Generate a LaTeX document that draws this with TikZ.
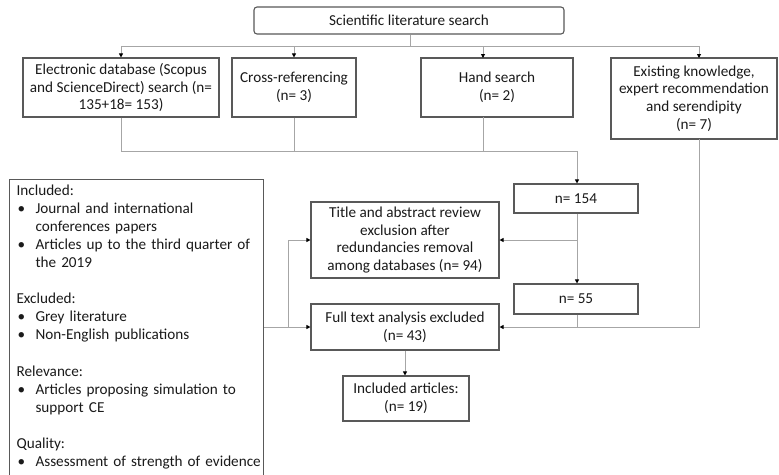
\documentclass[tikz,border=0pt]{standalone}
\usepackage{fontspec}
\setmainfont{Carlito}
\usetikzlibrary{arrows.meta,calc}
\definecolor{bordc}{HTML}{595959}
\definecolor{connc}{HTML}{A6A6A6}
\definecolor{txtc}{HTML}{1A1A1A}
\newcommand{\bul}{\makebox[19pt][l]{\hspace{1pt}•}}
\newcommand{\ind}{\hspace*{19pt}}
\begin{document}
\begin{tikzpicture}[x=1pt,y=-1pt,
  every node/.style={font=\fontsize{15.2}{17.7}\selectfont, text=txtc},
  boxx/.style={draw=bordc, line width=1.1pt, rectangle, align=center, inner sep=0pt},
  conn/.style={draw=connc, line width=0.9pt},
  tip/.style={-{Triangle[length=4pt,width=4pt,color=black]}}
]
\clip (0,0) rectangle (779,474);
\fill[white] (0,0) rectangle (779,474);

\node[boxx, rounded corners=3pt, minimum width=310pt, minimum height=27pt] (top) at (409,20.5) {Scientific literature search};

\node[boxx, minimum width=196pt, minimum height=59pt] (db) at (121,87.5) {Electronic database (Scopus\\ and ScienceDirect) search (n=\\ 135+18= 153)};
\node[boxx, minimum width=124pt, minimum height=59pt] (cross) at (294,87.5) {Cross-referencing\\ (n= 3)};
\node[boxx, minimum width=152pt, minimum height=59pt] (hand) at (497,87.5) {Hand search\\ (n= 2)};
\node[boxx, minimum width=166pt, minimum height=81pt] (exist) at (694,98.5) {Existing knowledge,\\ expert recommendation\\ and serendipity\\ (n= 7)};

\node[boxx, minimum width=124pt, minimum height=29pt] (n154) at (576,198.5) {n= 154};
\node[boxx, minimum width=188pt, minimum height=76pt] (title) at (405,240) {Title and abstract review\\ exclusion after\\ redundancies removal\\ among databases (n= 94)};
\node[boxx, minimum width=124pt, minimum height=30pt] (n55) at (576,299) {n= 55};
\node[boxx, minimum width=188pt, minimum height=46pt] (full) at (405,327) {Full text analysis excluded\\ (n= 43)};
\node[boxx, minimum width=126pt, minimum height=45pt] (incl) at (406,398.5) {Included articles:\\ (n= 19)};

\node[draw=bordc, line width=1.1pt, rectangle, anchor=north west, align=left,
  inner xsep=7pt, inner ysep=5pt, text width=240pt,
  font=\fontsize{15.2}{18.1}\selectfont] (crit) at (9,179) {Included:\\
\bul Journal and international\\
\ind conferences papers\\
\bul Articles up to the third quarter of\\
\ind the 2019\\[18.1pt]
Excluded:\\
\bul Grey literature\\
\bul Non-English publications\\[18.1pt]
Relevance:\\
\bul Articles proposing simulation to\\
\ind support CE\\[18.1pt]
Quality:\\
\bul \rlap{Assessment of strength of evidence}\\[6pt]
\ind };

% coordinates
\coordinate (j0) at (410,46);
\coordinate (hin) at (483,58);
\coordinate (ein) at (699,58);
\coordinate (hout) at (483,117);
\coordinate (eout) at (699,139);
\coordinate (m1) at (577,151);
\coordinate (br) at (288,327);

% top distribution
\draw[conn] (top.south -| j0) -- (j0);
\draw[conn,tip] (j0) -| (db.north);
\draw[conn,tip] (j0) -| (cross.north);
\draw[conn,tip] (j0) -| (hin);
\draw[conn,tip] (j0) -| (ein);

% merge to n=154
\draw[conn,tip] (db.south) |- (m1) -- (m1 |- n154.north);
\draw[conn] (cross.south) -- (cross.south |- m1);
\draw[conn] (hout) -- (hout |- m1);

% n=154 down
\draw[conn,tip] (n154.south -| m1) -- (n55.north -| m1);
\draw[conn,tip] (m1 |- title.east) -- (title.east);
\draw[conn] (n55.south -| m1) -- (m1 |- full.east);
\draw[conn,tip] (eout) |- (full.east);
\draw[conn,tip] (full.south) -- (full.south |- incl.north);

% criteria
\draw[conn,tip] (crit.east |- full.west) -- (full.west);
\draw[conn,tip] (br) |- (title.west);
\end{tikzpicture}
\end{document}
